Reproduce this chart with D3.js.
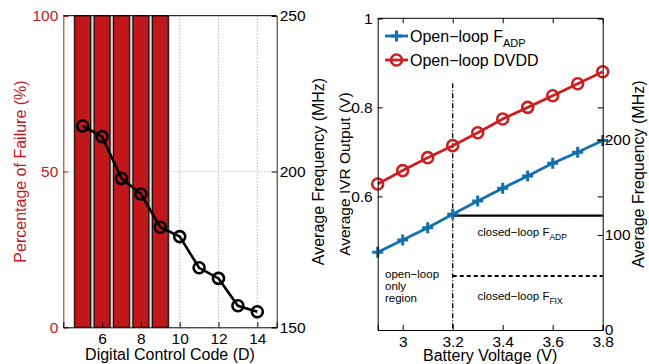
<!DOCTYPE html>
<html>
<head>
<meta charset="utf-8">
<script src="https://cdn.jsdelivr.net/npm/d3@7"></script>
<style>
  body { margin: 0; background: #fff; }
  svg { display: block; font-family: "Liberation Sans", Arial, sans-serif; }
</style>
</head>
<body>
<div id="chart"></div>
<script>
// left panel: failure bars + average frequency line
const codes = [5, 6, 7, 8, 9, 10, 11, 12, 13, 14];
const failurePct = [100, 100, 100, 100, 100, 0, 0, 0, 0, 0];
const avgFreq = [214.6, 211.2, 197.8, 192.8, 182.1, 179.1, 169.1, 165.7, 156.9, 155.0];
const codeTicks = [6, 8, 10, 12, 14];
const failTicks = [0, 50, 100];
const freqTicksL = [150, 200, 250];

// right panel: open-loop vs closed-loop
const voltages = [2.9, 3.0, 3.1, 3.2, 3.3, 3.4, 3.5, 3.6, 3.7, 3.8];
const dvdd = [0.628, 0.658, 0.687, 0.714, 0.743, 0.774, 0.800, 0.826, 0.853, 0.880];
const fAdp = [81.8, 94.7, 107.7, 121.8, 135.8, 149.2, 162.1, 175.5, 187.0, 199.3];
const closedRange = [3.2, 3.8];
const closedAdp = 120.3;
const closedFix = 56.8;
const boundaryV = 3.2;
const boundaryTop = 0.854;
const voltTicks = [3, 3.2, 3.4, 3.6, 3.8];
const ivrTicks = [0.6, 0.8, 1];
const freqTicksR = [0, 100, 200];

const RED = '#c3191c';
const BAR = '#c0171b';
const BLUE = '#1170ad';
const LRED = '#cc1f1f';
const FONT = '"Liberation Sans", Arial, sans-serif';
const TICKFS = '15.5px';

const svg = d3.select('#chart').append('svg')
    .attr('width', 649).attr('height', 364);

const styleTicks = (g, fill) => g.selectAll('text')
    .attr('fill', fill || '#000').style('font-size', TICKFS).style('font-family', FONT);

// ---------- left panel ----------
const L = { left: 63.3, right: 276.7, top: 15.7, bottom: 327.3 };
const xL = d3.scaleLinear().domain([4, 15]).range([L.left, L.right]);
const yFail = d3.scaleLinear().domain([0, 100]).range([L.bottom, L.top]);
const yFreqL = d3.scaleLinear().domain([150, 250]).range([L.bottom, L.top]);

const gL = svg.append('g');

// grid
gL.selectAll('.vgrid').data(codeTicks).join('line')
    .attr('x1', d => xL(d)).attr('x2', d => xL(d))
    .attr('y1', L.top).attr('y2', L.bottom)
    .attr('stroke', '#999').attr('stroke-width', 1).attr('stroke-dasharray', '1,2');
gL.append('line')
    .attr('x1', L.left).attr('x2', L.right)
    .attr('y1', yFail(50)).attr('y2', yFail(50))
    .attr('stroke', '#e8a8a8').attr('stroke-width', 1).attr('stroke-dasharray', '1,2');

// bars
const barW = 0.82;
const barData = codes.map((c, i) => ({ c, v: failurePct[i] })).filter(d => d.v > 0);
gL.selectAll('.barShadow').data(barData).join('rect')
    .attr('x', d => xL(d.c - barW / 2) - 1.5)
    .attr('width', xL(barW) - xL(0) + 3)
    .attr('y', d => yFail(d.v))
    .attr('height', d => yFail(0) - yFail(d.v))
    .attr('fill', '#b8b8b8');
gL.selectAll('.bar').data(barData).join('rect')
    .attr('x', d => xL(d.c - barW / 2))
    .attr('width', xL(barW) - xL(0))
    .attr('y', d => yFail(d.v))
    .attr('height', d => yFail(0) - yFail(d.v))
    .attr('fill', BAR).attr('stroke', '#000').attr('stroke-width', 1);

// frequency line
const freqPts = codes.map((c, i) => [c, avgFreq[i]]);
gL.append('path').datum(freqPts)
    .attr('d', d3.line().x(d => xL(d[0])).y(d => yFreqL(d[1])))
    .attr('fill', 'none').attr('stroke', '#000').attr('stroke-width', 2.6);
gL.selectAll('.fpt').data(freqPts).join('circle')
    .attr('cx', d => xL(d[0])).attr('cy', d => yFreqL(d[1])).attr('r', 5.5)
    .attr('fill', 'none').attr('stroke', '#000').attr('stroke-width', 2.6);

// axes
const tk = 5;
gL.append('g').attr('transform', `translate(${L.left},0)`)
    .call(d3.axisLeft(yFail).tickValues(failTicks).tickSize(-tk).tickPadding(5))
    .call(g => g.select('.domain').attr('stroke', RED))
    .call(g => g.selectAll('line').attr('stroke', RED))
    .call(g => styleTicks(g, RED));
gL.append('g').attr('transform', `translate(${L.right},0)`)
    .call(d3.axisRight(yFreqL).tickValues(freqTicksL).tickSize(-tk).tickPadding(3))
    .call(g => g.select('.domain').attr('stroke', '#4a1414'))
    .call(g => styleTicks(g));
gL.append('g').attr('transform', `translate(0,${L.bottom})`)
    .call(d3.axisBottom(xL).tickValues(codeTicks).tickSize(-tk).tickPadding(6))
    .call(g => styleTicks(g));
gL.append('line').attr('x1', L.left).attr('x2', L.right)
    .attr('y1', L.top).attr('y2', L.top).attr('stroke', '#000');

gL.append('text')
    .attr('transform', `translate(26,${(L.top + L.bottom) / 2}) rotate(-90)`)
    .attr('text-anchor', 'middle').attr('fill', RED).style('font-size', '16px')
    .text('Percentage of Failure (%)');
gL.append('text')
    .attr('transform', `translate(324,${(L.top + L.bottom) / 2}) rotate(-90)`)
    .attr('text-anchor', 'middle').attr('fill', '#000').style('font-size', '16px')
    .text('Average Frequency (MHz)');
gL.append('text')
    .attr('x', (L.left + L.right) / 2).attr('y', 359.5)
    .attr('text-anchor', 'middle').style('font-size', '16px')
    .text('Digital Control Code (D)');

// ---------- right panel ----------
const R = { left: 377.7, right: 602.7, top: 18.3, bottom: 330 };
const xR = d3.scaleLinear().domain([2.9, 3.8]).range([R.left, R.right]);
const yV = d3.scaleLinear().domain([0.3, 1]).range([R.bottom, R.top]);
const yFreqR = d3.scaleLinear().domain([0, 328]).range([R.bottom, R.top]);

const gR = svg.append('g');

// closed-loop lines and boundary
gR.append('line')
    .attr('x1', xR(closedRange[0])).attr('x2', xR(closedRange[1]))
    .attr('y1', yFreqR(closedAdp)).attr('y2', yFreqR(closedAdp))
    .attr('stroke', '#000').attr('stroke-width', 2.2);
gR.append('line')
    .attr('x1', xR(closedRange[0])).attr('x2', xR(closedRange[1]))
    .attr('y1', yFreqR(closedFix)).attr('y2', yFreqR(closedFix))
    .attr('stroke', '#000').attr('stroke-width', 2.2).attr('stroke-dasharray', '4,3');
gR.append('line')
    .attr('x1', xR(boundaryV)).attr('x2', xR(boundaryV))
    .attr('y1', yV(boundaryTop)).attr('y2', R.bottom)
    .attr('stroke', '#000').attr('stroke-width', 1.3).attr('stroke-dasharray', '5,2,1,2');

// open-loop lines
const dvddPts = voltages.map((v, i) => [v, dvdd[i]]);
const adpPts = voltages.map((v, i) => [v, fAdp[i]]);
gR.append('path').datum(dvddPts)
    .attr('d', d3.line().x(d => xR(d[0])).y(d => yV(d[1])))
    .attr('fill', 'none').attr('stroke', LRED).attr('stroke-width', 2.8);
gR.selectAll('.dpt').data(dvddPts).join('circle')
    .attr('cx', d => xR(d[0])).attr('cy', d => yV(d[1])).attr('r', 5.5)
    .attr('fill', 'none').attr('stroke', LRED).attr('stroke-width', 2.6);
gR.append('path').datum(adpPts)
    .attr('d', d3.line().x(d => xR(d[0])).y(d => yFreqR(d[1])))
    .attr('fill', 'none').attr('stroke', BLUE).attr('stroke-width', 2.8);
const plus = (sel, s) => sel.attr('d', `M${-s},0H${s}M0,${-s}V${s}`)
    .attr('stroke', BLUE).attr('stroke-width', 3).attr('fill', 'none');
gR.selectAll('.apt').data(adpPts).join('path')
    .attr('transform', d => `translate(${xR(d[0])},${yFreqR(d[1])})`)
    .call(plus, 5.5);

// axes
gR.append('g').attr('transform', `translate(${R.left},0)`)
    .call(d3.axisLeft(yV).tickValues(ivrTicks).tickFormat(d3.format('')).tickSize(-tk).tickPadding(5))
    .call(g => styleTicks(g));
gR.append('g').attr('transform', `translate(${R.right},0)`)
    .call(d3.axisLeft(yV).tickValues(ivrTicks).tickSize(tk).tickFormat(''))
    .call(g => g.select('.domain').remove());
gR.append('g').attr('transform', `translate(${R.right},0)`)
    .call(d3.axisRight(yFreqR).tickValues(freqTicksR).tickSize(-tk).tickPadding(2))
    .call(g => styleTicks(g));
gR.append('g').attr('transform', `translate(0,${R.bottom})`)
    .call(d3.axisBottom(xR).tickValues(voltTicks).tickFormat(d3.format('')).tickSize(-tk).tickPadding(6))
    .call(g => styleTicks(g));
gR.append('g').attr('transform', `translate(0,${R.top})`)
    .call(d3.axisTop(xR).tickValues(voltTicks).tickSize(-tk).tickFormat(''))
    .call(g => g.select('.domain').remove());
gR.append('line').attr('x1', R.left).attr('x2', R.right)
    .attr('y1', R.top).attr('y2', R.top).attr('stroke', '#000');

gR.append('text')
    .attr('transform', `translate(350,${(R.top + R.bottom) / 2}) rotate(-90)`)
    .attr('text-anchor', 'middle').style('font-size', '15.5px')
    .text('Average IVR Output (V)');
gR.append('text')
    .attr('transform', `translate(644,${(R.top + R.bottom) / 2}) rotate(-90)`)
    .attr('text-anchor', 'middle').style('font-size', '16px')
    .text('Average Frequency (MHz)');
gR.append('text')
    .attr('x', (R.left + R.right) / 2).attr('y', 361)
    .attr('text-anchor', 'middle').style('font-size', '16px')
    .text('Battery Voltage (V)');

// legend
const leg = gR.append('g');
leg.append('line').attr('x1', 385).attr('x2', 408).attr('y1', 36).attr('y2', 36)
    .attr('stroke', BLUE).attr('stroke-width', 2.8);
leg.append('path').attr('transform', 'translate(396.5,36)').call(plus, 5.5);
const t1 = leg.append('text').attr('x', 410).attr('y', 42).style('font-size', '16px');
t1.append('tspan').text('Open\u2212loop F');
t1.append('tspan').attr('dy', 5).style('font-size', '11px').text('ADP');
leg.append('line').attr('x1', 385).attr('x2', 408).attr('y1', 60).attr('y2', 60)
    .attr('stroke', LRED).attr('stroke-width', 2.8);
leg.append('circle').attr('cx', 396.5).attr('cy', 60).attr('r', 5.5)
    .attr('fill', 'none').attr('stroke', LRED).attr('stroke-width', 2.6);
leg.append('text').attr('x', 410).attr('y', 66).style('font-size', '16px')
    .text('Open\u2212loop DVDD');

// annotations
const ann = (x, y, main, sub) => {
    const t = gR.append('text').attr('x', x).attr('y', y).style('font-size', '11.5px');
    t.append('tspan').text(main);
    if (sub) t.append('tspan').attr('dy', 4).style('font-size', '8.5px').text(sub);
};
ann(477.5, 236, 'closed\u2212loop F', 'ADP');
ann(477.5, 300, 'closed\u2212loop F', 'FIX');
ann(385, 278, 'open\u2212loop');
ann(385, 290, 'only');
ann(385, 302, 'region');
</script>
</body>
</html>
